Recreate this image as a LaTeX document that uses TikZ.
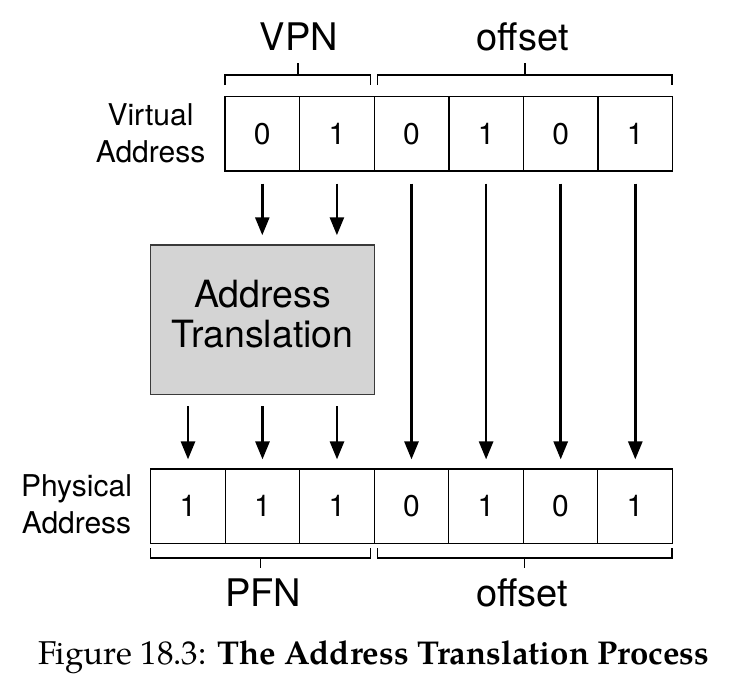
\documentclass[tikz,border=0pt]{standalone}
\usepackage{fontspec}
\setmainfont{TeX Gyre Heros}
\newfontfamily\capfont{TeX Gyre Pagella}
\usetikzlibrary{arrows.meta}
\definecolor{boxgray}{HTML}{D4D4D4}
\definecolor{boxedge}{HTML}{3A3A3A}
\tikzset{
  cell/.style={draw, line width=1.4pt, minimum width=74.6pt, minimum height=74.4pt, inner sep=0pt, font=\fontsize{30}{32}\selectfont},
  pcell/.style={cell, minimum width=74.5pt},
  arr/.style={line width=2.7pt, -{Triangle[width=14pt,length=18pt]}},
  brack/.style={line width=1.3pt},
  side/.style={align=center, inner sep=0pt, anchor=base, font=\fontsize{30}{36.7}\selectfont},
  head/.style={inner sep=0pt, anchor=base, font=\fontsize{38}{40}\selectfont},
  trans/.style={draw=boxedge, fill=boxgray, line width=1.5pt, minimum width=223.6pt, minimum height=149.3pt, inner sep=0pt},
}
\begin{document}
\begin{tikzpicture}[x=1pt,y=-1pt]
\useasboundingbox (0,0) rectangle (738,694);
% virtual address cells
\node[cell] (v1) at (262.3,133.9) {0};
\node[cell] (v2) at (336.9,133.9) {1};
\node[cell] (v3) at (411.5,133.9) {0};
\node[cell] (v4) at (486.1,133.9) {1};
\node[cell] (v5) at (560.7,133.9) {0};
\node[cell] (v6) at (635.3,133.9) {1};
% physical address cells
\node[pcell] (p1) at (188.0,506.0) {1};
\node[pcell] (p2) at (262.5,506.0) {1};
\node[pcell] (p3) at (337.0,506.0) {1};
\node[pcell] (p4) at (411.5,506.0) {0};
\node[pcell] (p5) at (486.0,506.0) {1};
\node[pcell] (p6) at (560.5,506.0) {0};
\node[pcell] (p7) at (635.0,506.0) {1};
% translation box
\node[trans] (tr) at (262.5,319.65) {};
\node[align=center, inner sep=0pt, anchor=base, font=\fontsize{37.5}{40}\selectfont] (trtext) at (262.5,347) {Address\\Translation};
% side labels
\node[side] (vlab) at (150.5,162.5) {Virtual\\Address};
\node[side] (plab) at (76.5,533) {Physical\\Address};
% brackets
\coordinate (vb1) at (225,75);
\coordinate (vb2) at (370.7,75);
\coordinate (ob1) at (377.7,75);
\coordinate (ob2) at (672,75);
\draw[brack] ([yshift=-10pt]vb1) -- (vb1) -- (vb2) -- ([yshift=-10pt]vb2);
\draw[brack] ([yshift=-10pt]ob1) -- (ob1) -- (ob2) -- ([yshift=-10pt]ob2);
\coordinate (vbm) at (297.9,75);
\coordinate (obm) at (524.9,75);
\draw[brack] (vbm) -- ([yshift=12pt]vbm);
\draw[brack] (obm) -- ([yshift=12pt]obm);
\node[head] (vpn) at (299,50) {VPN};
\node[head] (voff) at (522.7,50) {offset};
\coordinate (pb1) at (150.7,558);
\coordinate (pb2) at (370.7,558);
\coordinate (qb1) at (377.3,558);
\coordinate (qb2) at (672,558);
\draw[brack] ([yshift=10pt]pb1) -- (pb1) -- (pb2) -- ([yshift=10pt]pb2);
\draw[brack] ([yshift=10pt]qb1) -- (qb1) -- (qb2) -- ([yshift=10pt]qb2);
\coordinate (pbm) at (260.7,558);
\coordinate (qbm) at (524.7,558);
\draw[brack] (pbm) -- ([yshift=-10pt]pbm);
\draw[brack] (qbm) -- ([yshift=-10pt]qbm);
\node[head] (pfn) at (263,606) {PFN};
\node[head] (poff) at (522.3,606) {offset};
% arrows virtual -> translation
\foreach \c in {v1,v2}{
  \draw[arr] ([yshift=-11.7pt]\c.south) -- ([yshift=9pt]\c.south |- tr.north);
}
% arrows virtual offset -> physical offset
\foreach \a/\b in {v3/p4,v4/p5,v5/p6,v6/p7}{
  \draw[arr] ([yshift=-11.7pt]\a.south) -- ([yshift=8.7pt]\a.south |- \b.north);
}
% arrows translation -> physical
\foreach \c in {p1,p2,p3}{
  \draw[arr] ([yshift=-11.4pt]\c.north |- tr.south) -- ([yshift=8.7pt]\c.north);
}
% caption
\node[inner sep=0pt, anchor=base, font=\capfont\fontsize{33}{38}\selectfont] (cap) at (373.7,664) {Figure 18.3: \textbf{The Address Translation Process}};
\end{tikzpicture}
\end{document}
